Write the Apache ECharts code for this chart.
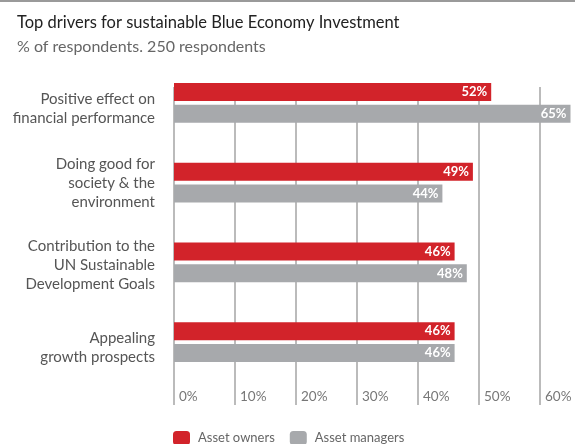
<!DOCTYPE html>
<html><head><meta charset="utf-8">
<script src="https://cdn.jsdelivr.net/npm/echarts@6/dist/echarts.min.js"></script>
<style>html,body{margin:0;padding:0;background:#fff}#c{width:575px;height:444px}</style>
</head><body><div id="c"></div>
<script>
var categories = ['Positive effect on\nfinancial performance','Doing good for\nsociety & the\nenvironment','Contribution to the\nUN Sustainable\nDevelopment Goals','Appealing\ngrowth prospects'];
var assetOwners = [52, 49, 46, 46];
var assetManagers = [65, 44, 48, 46];
var xTicks = [0, 10, 20, 30, 40, 50, 60];
// vertical nudges of the category labels (px)
var labelShift = [6, 1, 3, 6];
var F = 'Lato, "Open Sans", sans-serif';
var chart = echarts.init(document.getElementById('c'));
var lbl = {show:true, position:'insideRight', color:'#fff', fontFamily:F, fontWeight:'bold', fontSize:13, distance:4, formatter:function(p){return p.value+'%';}};
var rich = {};
labelShift.forEach(function(s, i){ rich['g'+i] = {fontSize:1, lineHeight:s*2, height:s*2}; });
chart.setOption({
  animation:false,
  textStyle:{fontFamily:F},
  title:[{text:'Top drivers for sustainable Blue Economy Investment', left:12, top:9, textStyle:{fontFamily:F, fontSize:16.5, fontWeight:'normal', color:'#222'}},
         {text:'% of respondents. 250 respondents', left:12, top:34, textStyle:{fontFamily:F, fontSize:16, fontWeight:'normal', color:'#666'}}],
  graphic:[{type:'rect', shape:{x:0,y:0,width:575,height:2}, style:{fill:'#9a9a9a'}}],
  legend:{left:168, top:426, itemWidth:17, itemHeight:14, itemGap:15, textStyle:{fontFamily:F, fontSize:13, color:'#666', padding:[0,0,0,3]}, data:['Asset owners','Asset managers']},
  grid:[{left:174, right:35, top:63, height:319},
        {left:174, right:35, top:87, bottom:39}],
  xAxis:[{gridIndex:0, type:'value', min:0, max:60, interval:10, show:false},
         {gridIndex:1, type:'value', min:0, max:60, interval:10,
          axisLine:{show:false}, axisTick:{show:false},
          splitLine:{show:true, lineStyle:{color:'#a4a4a4', width:1.5}},
          axisLabel:{inside:true, margin:1, align:'left', padding:[0,0,0,5], color:'#777', fontSize:13.5, fontFamily:F,
                     formatter:function(v){return xTicks.indexOf(v)>=0 ? v+'%' : '';}}}],
  yAxis:[{gridIndex:0, type:'category', inverse:true, data:categories,
          axisLine:{show:false}, axisTick:{show:false},
          axisLabel:{margin:19, color:'#555', fontSize:15, lineHeight:19, fontFamily:F, align:'right', rich:rich,
                     formatter:function(v, i){ return labelShift[i] > 0 ? '{g'+i+'| }\n' + v : v; }}},
         {gridIndex:1, type:'value', show:false}],
  series:[
    {name:'Asset owners', type:'bar', xAxisIndex:0, yAxisIndex:0, data:assetOwners, barWidth:18, barGap:'22%', clip:false, itemStyle:{color:'#d2232a'}, label:lbl, z:3},
    {name:'Asset managers', type:'bar', xAxisIndex:0, yAxisIndex:0, data:assetManagers, barWidth:18, barGap:'22%', clip:false, itemStyle:{color:'#a7a9ac'}, label:lbl, z:3}
  ]
});
</script></body></html>
